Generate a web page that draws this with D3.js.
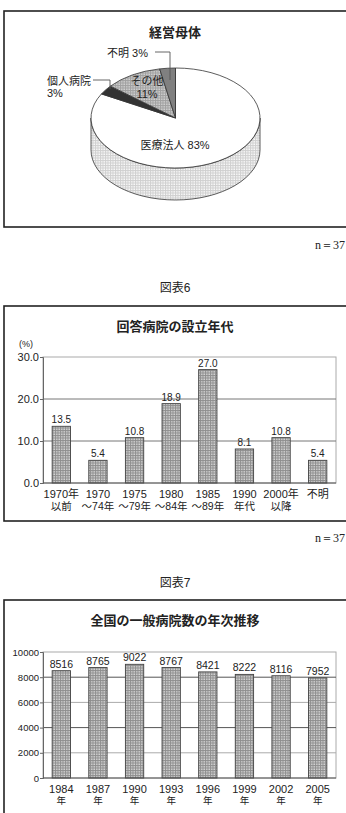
<!DOCTYPE html>
<html><head><meta charset="utf-8">
<script src="https://cdn.jsdelivr.net/npm/d3@7"></script>
<style>
  html, body { margin: 0; padding: 0; background: #fff; }
  svg { display: block; }
  text { font-family: "Liberation Sans", "Noto Sans CJK JP", sans-serif; fill: #222; }
</style>
</head><body>
<svg id="chart" width="346" height="813"></svg>
<script>
/* ===== data ===== */
const pieLabels = ['医療法人', '個人病院', 'その他', '不明'];
const pieValues = [83, 3, 11, 3];
const pieColors = ['#fff', '#333', 'url(#dots-mid)', '#808080'];

const estCats1 = ['1970年', '1970', '1975', '1980', '1985', '1990', '2000年', '不明'];
const estCats2 = ['以前', '～74年', '～79年', '～84年', '～89年', '年代', '以降', ''];
const estValues = [13.5, 5.4, 10.8, 18.9, 27.0, 8.1, 10.8, 5.4];
const estTicks = [0, 10, 20, 30];

const hospYears = ['1984', '1987', '1990', '1993', '1996', '1999', '2002', '2005'];
const hospValues = [8516, 8765, 9022, 8767, 8421, 8222, 8116, 7952];
const hospTicks = [0, 2000, 4000, 6000, 8000, 10000];

const svg = d3.select('#chart');

/* ===== patterns ===== */
const defs = svg.append('defs');
function gridPattern(id, bg, line, size) {
  const p = defs.append('pattern').attr('id', id)
    .attr('width', size).attr('height', size).attr('patternUnits', 'userSpaceOnUse');
  p.append('rect').attr('width', size).attr('height', size).attr('fill', bg);
  p.append('path').attr('d', `M0,0.5H${size}M0.5,0V${size}`)
    .attr('stroke', line).attr('stroke-width', 1);
}
gridPattern('bar-fill', '#d6d6d6', '#8e8e8e', 2.5);
gridPattern('dots-mid', '#d2d2d2', '#a0a0a0', 2.5);
gridPattern('dots-light', '#fafafa', '#cfcfcf', 2.5);

/* ===== frames & captions ===== */
function frame(y0, y1) {
  svg.append('rect').attr('x', 4).attr('y', y0).attr('width', 360).attr('height', y1 - y0)
    .attr('fill', 'none').attr('stroke', '#222').attr('stroke-width', 1.6);
}
function title(txt, y) {
  svg.append('text').attr('x', 175).attr('y', y).attr('text-anchor', 'middle')
    .attr('font-size', 13).attr('font-weight', 700).text(txt);
}
function nNote(y) {
  svg.append('text').attr('x', 345).attr('y', y).attr('text-anchor', 'end').attr('font-size', 12)
    .style('font-family', '"Liberation Serif", serif').text('n＝37');
}
function caption(txt, y) {
  svg.append('text').attr('x', 175).attr('y', y).attr('text-anchor', 'middle')
    .attr('font-size', 12).text(txt);
}

frame(11, 227);
title('経営母体', 37);
nNote(249);
caption('図表6', 292);
frame(306, 521);
title('回答病院の設立年代', 331);
nNote(542);
caption('図表7', 587);
frame(600, 830);
title('全国の一般病院数の年次推移', 625);

/* ===== 3D pie ===== */
const cx = 175.5, cy = 118, rx = 84.5, ry = 50, depth = 32;
const pt = (a, dy = 0) => [cx + rx * Math.sin(a), cy - ry * Math.cos(a) + dy];
const arcs = d3.pie().sort(null).value(d => d)(pieValues);

// side wall (front half only)
arcs.forEach((d, i) => {
  const a0 = Math.max(d.startAngle, Math.PI / 2), a1 = Math.min(d.endAngle, Math.PI * 1.5);
  if (a1 <= a0) return;
  const p0 = pt(a0), p1 = pt(a1), q1 = pt(a1, depth), q0 = pt(a0, depth);
  const path = `M${p0}A${rx},${ry} 0 0 1 ${p1}L${q1}A${rx},${ry} 0 0 0 ${q0}Z`;
  svg.append('path').attr('d', path)
    .attr('fill', i === 0 ? 'url(#dots-light)' : pieColors[i])
    .attr('stroke', '#333').attr('stroke-width', 0.8);
});

// top face
arcs.forEach((d, i) => {
  const p0 = pt(d.startAngle), p1 = pt(d.endAngle);
  const large = d.endAngle - d.startAngle > Math.PI ? 1 : 0;
  svg.append('path').attr('d', `M${cx},${cy}L${p0}A${rx},${ry} 0 ${large} 1 ${p1}Z`)
    .attr('fill', pieColors[i]).attr('stroke', '#333').attr('stroke-width', 0.8);
});

// labels
svg.append('text').attr('x', 175).attr('y', 149).attr('text-anchor', 'middle')
  .attr('font-size', 11).text(`${pieLabels[0]} ${pieValues[0]}%`);
svg.append('text').attr('x', 147).attr('y', 85).attr('text-anchor', 'middle')
  .attr('font-size', 11).text(pieLabels[2]);
svg.append('text').attr('x', 147).attr('y', 97.5).attr('text-anchor', 'middle')
  .attr('font-size', 11).text(`${pieValues[2]}%`);
svg.append('text').attr('x', 107).attr('y', 57).attr('font-size', 11)
  .text(`${pieLabels[3]} ${pieValues[3]}%`);
svg.append('text').attr('x', 47).attr('y', 85).attr('font-size', 11).text(pieLabels[1]);
svg.append('text').attr('x', 47).attr('y', 97).attr('font-size', 11).text(`${pieValues[1]}%`);
svg.append('path').attr('d', 'M155,52H170V80').attr('fill', 'none')
  .attr('stroke', '#555').attr('stroke-width', 0.9);
svg.append('path').attr('d', 'M93,80H110V89').attr('fill', 'none')
  .attr('stroke', '#555').attr('stroke-width', 0.9);

/* ===== bar charts ===== */
function barChart(opt) {
  const x = d3.scaleBand().domain(d3.range(opt.values.length))
    .range([43, 336]).paddingInner(0.5).paddingOuter(0.25);
  const y = d3.scaleLinear().domain(opt.domain).range([opt.bottom, opt.top]);
  const g = svg.append('g');

  g.append('rect').attr('x', 43).attr('y', opt.top).attr('width', 293)
    .attr('height', opt.bottom - opt.top).attr('fill', 'none')
    .attr('stroke', '#aaa').attr('stroke-width', 1);

  opt.ticks.slice(1, -1).forEach(t => {
    g.append('line').attr('x1', 43).attr('x2', 336).attr('y1', y(t)).attr('y2', y(t))
      .attr('stroke', opt.gridColor(t)).attr('stroke-width', 1);
  });

  const ax = g.append('g').attr('transform', 'translate(43,0)')
    .call(d3.axisLeft(y).tickValues(opt.ticks).tickSize(3).tickFormat(opt.fmt));
  ax.select('.domain').attr('stroke', '#666');
  ax.selectAll('.tick line').attr('stroke', '#666');
  ax.selectAll('.tick text').attr('font-size', opt.tickSize).attr('fill', '#222')
    .attr('x', -4).style('font-family', '"Liberation Sans", sans-serif');

  g.selectAll('rect.bar').data(opt.values).join('rect').attr('class', 'bar')
    .attr('x', (d, i) => x(i)).attr('y', d => y(d))
    .attr('width', x.bandwidth()).attr('height', d => opt.bottom - y(d))
    .attr('fill', 'url(#bar-fill)').attr('stroke', '#444').attr('stroke-width', 0.9);

  g.append('line').attr('x1', 43).attr('x2', 336).attr('y1', opt.bottom).attr('y2', opt.bottom)
    .attr('stroke', '#555').attr('stroke-width', 1);

  g.selectAll('text.val').data(opt.values).join('text').attr('class', 'val')
    .attr('x', (d, i) => x(i) + x.bandwidth() / 2).attr('y', d => y(d) - 3)
    .attr('text-anchor', 'middle').attr('font-size', opt.valSize)
    .text(opt.valFmt);

  [opt.cats1, opt.cats2].forEach((cats, k) => {
    g.selectAll(`text.cat${k}`).data(cats).join('text').attr('class', `cat${k}`)
      .attr('x', (d, i) => x(i) + x.bandwidth() / 2)
      .attr('y', opt.bottom + opt.catY[k])
      .attr('text-anchor', 'middle').attr('font-size', opt.catSize[k]).text(d => d);
  });
}

barChart({
  values: estValues, domain: [0, 30], ticks: estTicks, top: 357, bottom: 483,
  fmt: d3.format('.1f'), valFmt: d3.format('.1f'), tickSize: 11, valSize: 10,
  gridColor: () => '#777',
  cats1: estCats1, cats2: estCats2, catY: [15, 27], catSize: [11, 10.5],
});
svg.append('text').attr('x', 19).attr('y', 347).attr('font-size', 9).text('(%)');

barChart({
  values: hospValues, domain: [0, 10000], ticks: hospTicks, top: 652, bottom: 778,
  fmt: d3.format('d'), valFmt: d3.format('d'), tickSize: 9.5, valSize: 10.5,
  gridColor: t => (t === 4000 || t === 8000) ? '#555' : '#aaa',
  cats1: hospYears, cats2: hospYears.map(() => '年'), catY: [15, 26], catSize: [11, 9.5],
});
</script>
</body></html>
